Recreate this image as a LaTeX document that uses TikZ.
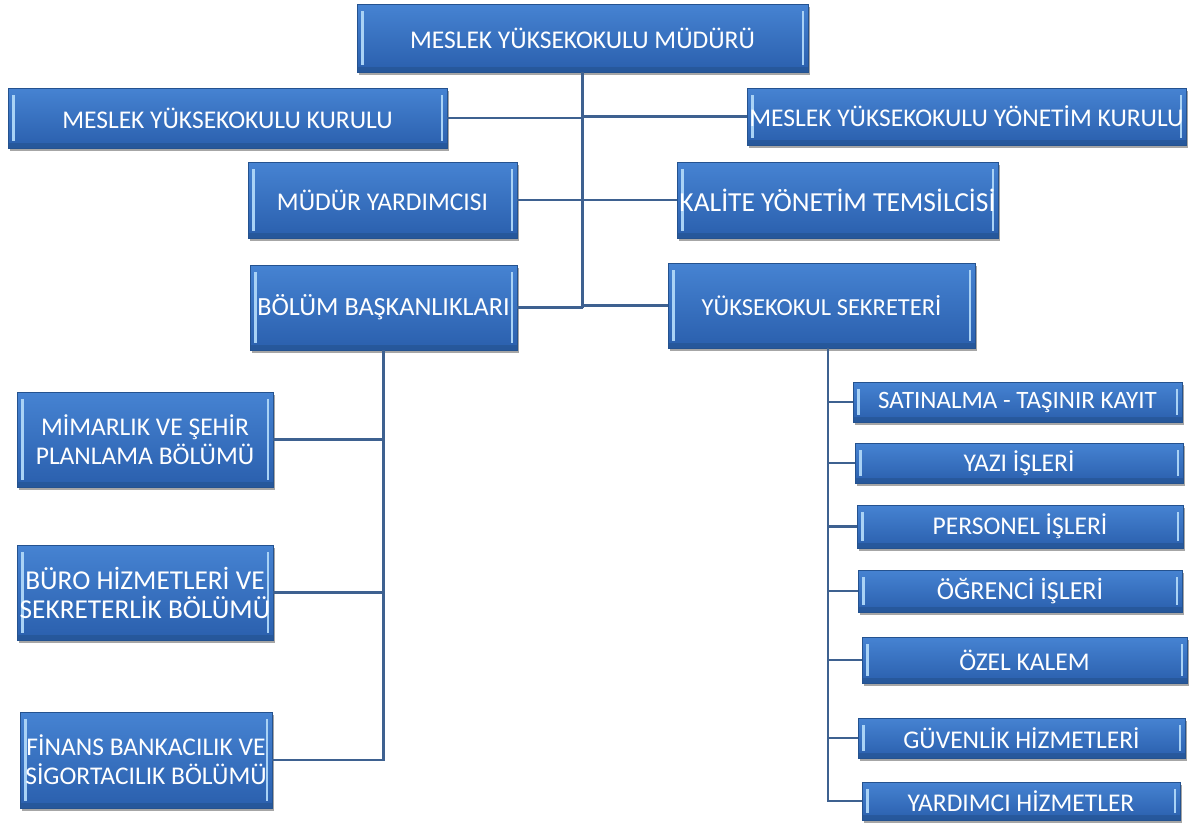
\documentclass[tikz,border=0pt]{standalone}
\usepackage{fontspec}
\setmainfont{Carlito}
\usetikzlibrary{shadows,calc}
\definecolor{boxtop}{HTML}{4683D2}
\definecolor{boxbot}{HTML}{2A5FAD}
\definecolor{boxedge}{HTML}{24528F}
\definecolor{hilite}{HTML}{A9D2F5}
\definecolor{linecol}{HTML}{3E6190}
\tikzset{
 orgbox/.style={draw=boxedge, line width=0.8pt, top color=boxtop, bottom color=boxbot,
  text=white, inner sep=0pt, align=center, font=\fontsize{25.5}{29}\selectfont,
  drop shadow={shadow xshift=2pt, shadow yshift=-3pt, opacity=0.35, fill=black},
  path picture={
   \fill[boxedge,opacity=0.6] (path picture bounding box.south west) rectangle ([yshift=5pt]path picture bounding box.south east);
   \fill[hilite] ([xshift=4pt,yshift=7pt]path picture bounding box.south west) rectangle ([xshift=6.5pt,yshift=-7pt]path picture bounding box.north west);
   \fill[hilite] ([xshift=-4pt,yshift=7pt]path picture bounding box.south east) rectangle ([xshift=-6.5pt,yshift=-7pt]path picture bounding box.north east);
  }},
 fs/.style={font=\fontsize{#1}{29}\selectfont},
 conn/.style={draw=linecol, line width=2.4pt}
}
\begin{document}
\begin{tikzpicture}[x=1pt,y=-1pt]
\fill[white] (0,0) rectangle (1191,828);
\useasboundingbox (0,0) rectangle (1191,828);
\node[orgbox, minimum width=451pt, minimum height=68pt] (top) at (582.5,38) {MESLEK YÜKSEKOKULU MÜDÜRÜ};
\node[orgbox, minimum width=439pt, minimum height=60pt] (kurul) at (227.5,118) {MESLEK YÜKSEKOKULU KURULU};
\node[orgbox, minimum width=439pt, minimum height=57pt] (yonetim) at (966.5,116.5) {MESLEK YÜKSEKOKULU YÖNETİM KURULU};
\node[orgbox, minimum width=269pt, minimum height=76pt] (mudyard) at (382.5,200) {MÜDÜR YARDIMCISI};
\node[orgbox, fs=27.5, minimum width=321pt, minimum height=76pt] (kalite) at (837.5,200) {KALİTE YÖNETİM TEMSİLCİSİ};
\node[orgbox, fs=26.2, minimum width=267pt, minimum height=85pt] (bolum) at (383.5,307.5) {BÖLÜM BAŞKANLIKLARI};
\node[orgbox, fs=24.5, minimum width=307pt, minimum height=85pt] (sekreter) at (821.5,305.5) {YÜKSEKOKUL SEKRETERİ};
\node[orgbox, minimum width=256pt, minimum height=95pt] (mimarlik) at (145,439.5) {MİMARLIK VE ŞEHİR\\PLANLAMA BÖLÜMÜ};
\node[orgbox, fs=27.3, minimum width=256pt, minimum height=95pt] (buro) at (145,592.5) {BÜRO HİZMETLERİ VE\\SEKRETERLİK BÖLÜMÜ};
\node[orgbox, minimum width=252pt, minimum height=96pt] (finans) at (146,760) {FİNANS BANKACILIK VE\\SİGORTACILIK BÖLÜMÜ};
\node[orgbox, fs=25, minimum width=329pt, minimum height=40pt] (satin) at (1017.5,402) {SATINALMA - TAŞINIR KAYIT};
\node[orgbox, minimum width=328pt, minimum height=40pt] (yazi) at (1019,463) {YAZI İŞLERİ};
\node[orgbox, minimum width=326pt, minimum height=43pt] (personel) at (1020,526.5) {PERSONEL İŞLERİ};
\node[orgbox, fs=26, minimum width=324pt, minimum height=42pt] (ogrenci) at (1020,591) {ÖĞRENCİ İŞLERİ};
\node[orgbox, minimum width=325pt, minimum height=46pt] (ozel) at (1024.5,660) {ÖZEL KALEM};
\node[orgbox, minimum width=327pt, minimum height=40pt] (guvenlik) at (1021.5,738) {GÜVENLİK HİZMETLERİ};
\node[orgbox, minimum width=318pt, minimum height=38pt] (yardimci) at (1021,801) {YARDIMCI HİZMETLER};
% connectors
\draw[conn] (top.south) -- (top.south |- bolum.east);
\draw[conn] (kurul.east) -- (kurul.east -| top.south);
\draw[conn] (yonetim.west) -- (yonetim.west -| top.south);
\draw[conn] (mudyard.east) -- (kalite.west);
\draw[conn] (bolum.east) -- (bolum.east -| top.south);
\draw[conn] (sekreter.west) -- (sekreter.west -| top.south);
\draw[conn] (bolum.south) |- (finans.east);
\draw[conn] (mimarlik.east) -- (mimarlik.east -| bolum.south);
\draw[conn] (buro.east) -- (buro.east -| bolum.south);
\coordinate (rb) at (828,348);
\draw[conn] (rb) |- (yardimci.west);
\draw[conn] (satin.west) -- (satin.west -| rb);
\draw[conn] (yazi.west) -- (yazi.west -| rb);
\draw[conn] (personel.west) -- (personel.west -| rb);
\draw[conn] (ogrenci.west) -- (ogrenci.west -| rb);
\draw[conn] (ozel.west) -- (ozel.west -| rb);
\draw[conn] (guvenlik.west) -- (guvenlik.west -| rb);
\end{tikzpicture}
\end{document}
